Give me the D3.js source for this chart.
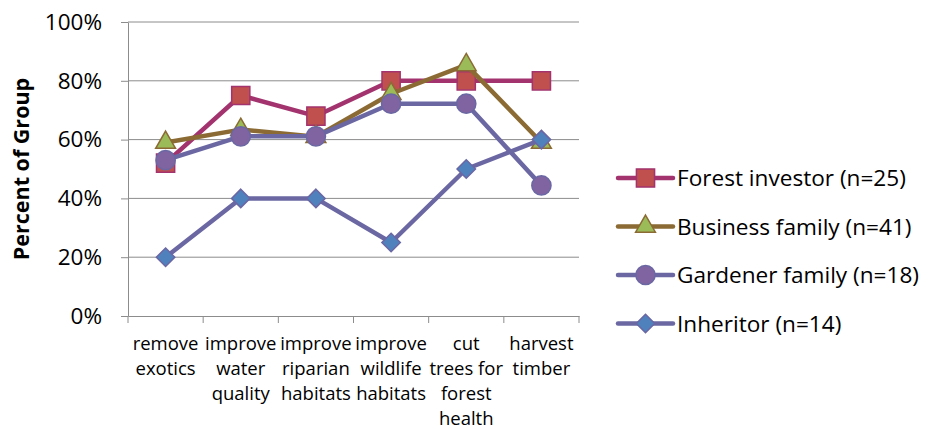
<!DOCTYPE html>
<html>
<head>
<meta charset="utf-8">
<script src="https://cdn.jsdelivr.net/npm/d3@7"></script>
<style>
  body { margin: 0; background: #fff; }
  svg { font-family: "Open Sans", Lato, sans-serif; }
</style>
</head>
<body>
<svg id="chart" width="929" height="429"></svg>
<script>
// categories along x, each one split over several lines
const categories = [
  ["remove", "exotics"],
  ["improve", "water", "quality"],
  ["improve", "riparian", "habitats"],
  ["improve", "wildlife", "habitats"],
  ["cut", "trees for", "forest", "health"],
  ["harvest", "timber"]
];
const yTicks = [0, 0.2, 0.4, 0.6, 0.8, 1.0];

// percent of group
const forestInvestor = [0.52, 0.75, 0.68, 0.80, 0.80, 0.80];
const businessFamily = [0.59, 0.634, 0.61, 0.756, 0.854, 0.59];
const gardenerFamily = [0.53, 0.611, 0.611, 0.722, 0.722, 0.444];
const inheritor = [0.20, 0.40, 0.40, 0.25, 0.50, 0.60];

// excel style diamond = square turned 45 degrees
const sqDiamond = {
  draw(ctx, size) {
    const r = Math.sqrt(size / 2);
    ctx.moveTo(0, -r); ctx.lineTo(r, 0); ctx.lineTo(0, r); ctx.lineTo(-r, 0); ctx.closePath();
  }
};

const series = [
  { name: "Forest investor (n=25)", values: forestInvestor, line: "#A2336E", fill: "#C0504D", stroke: "#A2336E", shape: d3.symbolSquare, size: 330 },
  { name: "Business family (n=41)", values: businessFamily, line: "#8B6B33", fill: "#9BBB59", stroke: "#8B6B33", shape: d3.symbolTriangle, size: 170 },
  { name: "Gardener family (n=18)", values: gardenerFamily, line: "#6A67A3", fill: "#8064A2", stroke: "#6A67A3", shape: d3.symbolCircle, size: 290 },
  { name: "Inheritor (n=14)", values: inheritor, line: "#6A67A3", fill: "#4F81BD", stroke: "#6A67A3", shape: sqDiamond, size: 170 }
];

const svg = d3.select("#chart");
const plotLeft = 128, plotRight = 579, plotTop = 22, plotBottom = 316;

const x = d3.scaleBand().domain(d3.range(categories.length)).range([plotLeft, plotRight]);
const y = d3.scaleLinear().domain([0, 1]).range([plotBottom, plotTop]);

// gridlines
svg.append("g")
  .selectAll("line")
  .data(yTicks.filter(d => d > 0))
  .join("line")
  .attr("x1", plotLeft).attr("x2", plotRight)
  .attr("y1", d => y(d)).attr("y2", d => y(d))
  .attr("stroke", "#8c8c8c").attr("stroke-width", 1);

// y axis
const yAxis = svg.append("g")
  .attr("transform", `translate(${plotLeft},0)`)
  .call(d3.axisLeft(y).tickValues(yTicks).tickFormat(d3.format(".0%")).tickSize(7).tickSizeOuter(0).tickPadding(19));
yAxis.select(".domain").attr("stroke", "#8c8c8c");
yAxis.selectAll(".tick line").attr("stroke", "#8c8c8c");
yAxis.selectAll("text").attr("font-size", 22.5).attr("fill", "#000").attr("font-family", "'Open Sans', sans-serif");

// x axis
const xAxis = svg.append("g")
  .attr("transform", `translate(0,${plotBottom})`)
  .call(d3.axisBottom(x).tickValues([]).tickSizeOuter(0));
xAxis.select(".domain").attr("stroke", "#8c8c8c");
const boundaries = d3.range(categories.length + 1).map(i => i < categories.length ? x(i) : x(i - 1) + x.bandwidth());
xAxis.selectAll(".bound")
  .data(boundaries)
  .join("line")
  .attr("x1", d => d).attr("x2", d => d)
  .attr("y1", 0).attr("y2", 7)
  .attr("stroke", "#8c8c8c");

const catText = svg.append("g")
  .selectAll("text")
  .data(categories)
  .join("text")
  .attr("text-anchor", "middle")
  .attr("font-size", 18.5)
  .attr("fill", "#000");
catText.each(function(lines, i) {
  d3.select(this).selectAll("tspan")
    .data(lines)
    .join("tspan")
    .attr("x", x(i) + x.bandwidth() / 2)
    .attr("y", (d, j) => 350 + j * 25)
    .text(d => d);
});

// y title
svg.append("text")
  .attr("transform", `translate(29,${(plotTop + plotBottom) / 2}) rotate(-90)`)
  .attr("text-anchor", "middle")
  .attr("font-size", 21.5)
  .attr("font-weight", "bold")
  .attr("fill", "#000")
  .text("Percent of Group");

// lines + markers
const line = d3.line()
  .x((d, i) => x(i) + x.bandwidth() / 2)
  .y(d => y(d));

series.forEach(s => {
  const g = svg.append("g");
  g.append("path")
    .attr("d", line(s.values))
    .attr("fill", "none")
    .attr("stroke", s.line)
    .attr("stroke-width", 4.5)
    .attr("stroke-linejoin", "round");
  g.selectAll("path.mark")
    .data(s.values)
    .join("path")
    .attr("class", "mark")
    .attr("transform", (d, i) => `translate(${x(i) + x.bandwidth() / 2},${y(d)})`)
    .attr("d", d3.symbol().type(s.shape).size(s.size))
    .attr("fill", s.fill)
    .attr("stroke", s.stroke)
    .attr("stroke-width", 1.5);
});

// legend
const legend = svg.append("g")
  .selectAll("g")
  .data(series)
  .join("g")
  .attr("transform", (d, i) => `translate(618,${178 + i * 48.5})`);
legend.append("line")
  .attr("x1", 0).attr("x2", 55)
  .attr("stroke", d => d.line)
  .attr("stroke-width", 4.5)
  .attr("stroke-linecap", "round");
legend.append("path")
  .attr("transform", "translate(27.5,0)")
  .attr("d", d => d3.symbol().type(d.shape).size(d.size)())
  .attr("fill", d => d.fill)
  .attr("stroke", d => d.stroke)
  .attr("stroke-width", 1.5);
legend.append("text")
  .attr("x", 59)
  .attr("dy", "0.36em")
  .attr("font-size", 22.6)
  .attr("fill", "#000")
  .text(d => d.name);
</script>
</body>
</html>
